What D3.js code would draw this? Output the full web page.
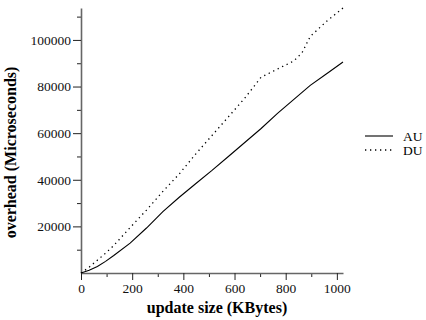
<!DOCTYPE html>
<html>
<head>
<meta charset="utf-8">
<script src="https://cdn.jsdelivr.net/npm/d3@7"></script>
<style>
  body { margin: 0; background: #fff; }
  svg text { font-family: "Liberation Serif", "Times New Roman", serif; }
</style>
</head>
<body>
<div id="chart"></div>
<script>
var sizes = [0, 32, 64, 96, 128, 192, 256, 320, 384, 448, 512, 576, 640, 704, 768, 832, 864, 896, 960, 1024];
var au = [0, 1200, 2800, 5000, 7500, 12800, 19300, 26300, 32500, 38300, 44000, 50000, 56000, 62000, 68500, 74500, 77500, 80500, 85500, 90500];
var du = [0, 2500, 5500, 8500, 11800, 19500, 27000, 35000, 42500, 51000, 59000, 67000, 75000, 84000, 87500, 91000, 94500, 101500, 108000, 113700];
var seriesNames = ["AU", "DU"];
var xTicks = [0, 200, 400, 600, 800, 1000];
var yTicks = [20000, 40000, 60000, 80000, 100000];

var margin = { top: 8, right: 83, bottom: 47, left: 81 },
    width = 426 - margin.left - margin.right,
    height = 320 - margin.top - margin.bottom;

var svg = d3.select("#chart")
    .append("svg")
    .attr("width", 426)
    .attr("height", 320)
    .append("g")
    .attr("transform", "translate(" + margin.left + "," + margin.top + ")");

var x = d3.scaleLinear().domain([0, 1024]).range([0, width]);
var y = d3.scaleLinear().domain([0, 113700]).range([height, 0]);

// minor ticks first, then labelled ones
var xMinor = d3.range(100, 1001, 200);
var yMinor = d3.range(10000, 110001, 20000);

svg.append("g")
    .attr("transform", "translate(0," + height + ")")
    .call(d3.axisBottom(x).tickValues(xMinor).tickSize(4).tickFormat(""))
    .call(function (g) { g.select(".domain").remove(); });

svg.append("g")
    .call(d3.axisLeft(y).tickValues(yMinor).tickSize(4).tickFormat(""))
    .call(function (g) { g.select(".domain").remove(); });

svg.append("g")
    .attr("transform", "translate(0," + height + ")")
    .call(d3.axisBottom(x).tickValues(xTicks).tickFormat(d3.format("d")).tickSize(7).tickPadding(3).tickSizeOuter(0));

svg.append("g")
    .call(d3.axisLeft(y).tickValues(yTicks).tickFormat(d3.format("d")).tickSize(8).tickPadding(2).tickSizeOuter(0));

svg.selectAll(".domain").attr("stroke", "#666").attr("stroke-width", 1.6);
svg.selectAll(".tick line").attr("stroke", "#222");
svg.selectAll(".tick text")
    .attr("font-family", "Liberation Serif, Times New Roman, serif")
    .attr("font-size", 13.5)
    .attr("fill", "#111");

var line = d3.line()
    .x(function (d, i) { return x(sizes[i]); })
    .y(function (d) { return y(d); });

svg.append("path")
    .datum(au)
    .attr("d", line)
    .attr("fill", "none")
    .attr("stroke", "#000")
    .attr("stroke-width", 1.1);

svg.append("path")
    .datum(du)
    .attr("d", line)
    .attr("fill", "none")
    .attr("stroke", "#000")
    .attr("stroke-width", 1.3)
    .attr("stroke-dasharray", "1.3,3.7");

// axis titles
svg.append("text")
    .attr("x", width / 2 + 5)
    .attr("y", height + 40)
    .attr("text-anchor", "middle")
    .style("font-size", "16px")
    .style("font-weight", "bold")
    .text("update size (KBytes)");

svg.append("text")
    .attr("transform", "translate(" + (-65) + "," + (height / 2 + 12) + ") rotate(-90)")
    .attr("text-anchor", "middle")
    .style("font-size", "16px")
    .style("font-weight", "bold")
    .text("overhead (Microseconds)");

// legend
var legend = svg.selectAll(".legend")
    .data(seriesNames)
    .enter()
    .append("g")
    .attr("transform", function (d, i) { return "translate(" + (width + 22) + "," + (128 + i * 14) + ")"; });

legend.append("line")
    .attr("x1", 0).attr("x2", 28)
    .attr("y1", 0).attr("y2", 0)
    .attr("stroke", "#000")
    .attr("stroke-width", function (d, i) { return i ? 1.3 : 1.1; })
    .attr("stroke-dasharray", function (d, i) { return i ? "1.3,3.7" : null; });

legend.append("text")
    .attr("x", 38)
    .attr("y", 0)
    .attr("dy", "0.35em")
    .style("font-size", "13.5px")
    .text(function (d) { return d; });
</script>
</body>
</html>
